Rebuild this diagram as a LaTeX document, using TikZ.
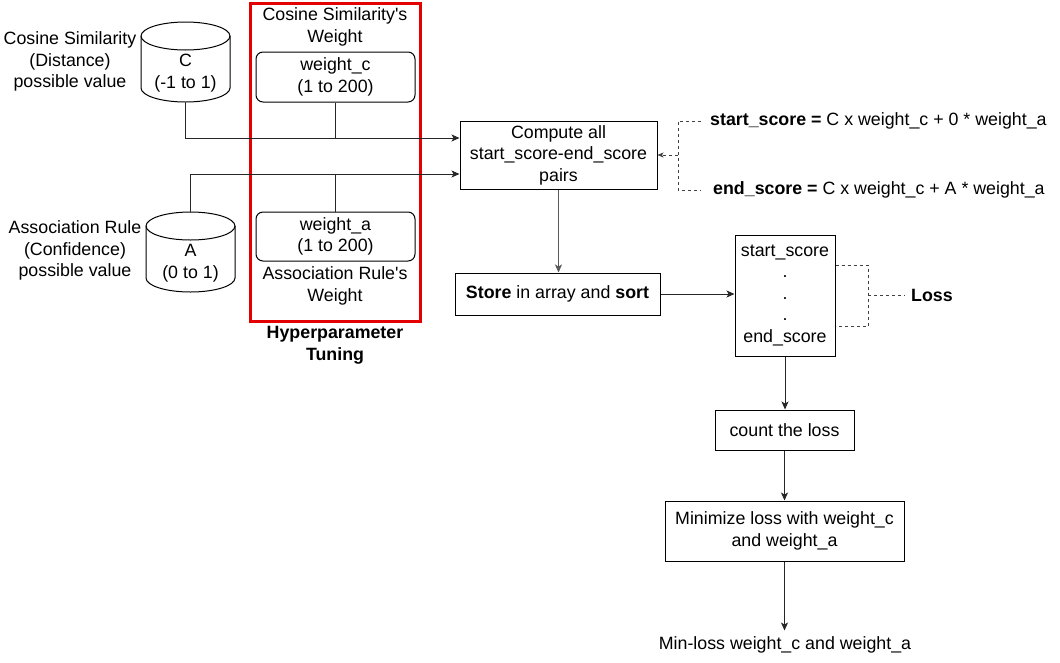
\documentclass[tikz,border=0pt]{standalone}
\usepackage{fontspec}
\newfontfamily\mainf{Liberation Sans}
\usetikzlibrary{arrows.meta,calc}
\begin{document}
\begin{tikzpicture}[x=1pt,y=-1pt,
  every node/.style={font=\mainf\fontsize{17.8}{21.5}\selectfont, align=center},
  txt/.style={inner sep=0pt},
  box/.style={draw=black, line width=1pt, inner sep=0pt},
  rbox/.style={box, rounded corners=7pt},
  ln/.style={line width=1pt, draw=black!85},
  arr/.style={ln, -{Stealth[length=8pt,width=7pt,inset=2pt]}},
  dsh/.style={line width=0.8pt, draw=black!75, dash pattern=on 3pt off 3pt},
  cyl/.style={line width=1pt, draw=black},
  bld/.style={font=\mainf\fontsize{17.8}{21.5}\selectfont\bfseries}
]
\useasboundingbox (0,0) rectangle (1060,662);

% cylinders
\draw[cyl] (141,36) -- (141,88) arc (180:0:44.5 and 14) -- (230,36) arc (0:-180:44.5 and 14) -- cycle;
\draw[cyl] (141,36) arc (180:0:44.5 and 14);
\node[txt, minimum width=89pt, minimum height=80pt] (cylC) at (185.5,62) {};
\node[txt] (cT) at (185.5,73) {C\\(-1 to 1)};

\draw[cyl] (146,226) -- (146,278) arc (180:0:44.5 and 14) -- (235,226) arc (0:-180:44.5 and 14) -- cycle;
\draw[cyl] (146,226) arc (180:0:44.5 and 14);
\node[txt, minimum width=89pt, minimum height=80pt] (cylA) at (190.5,252) {};
\node[txt] (aT) at (190.5,263) {A\\(0 to 1)};

\node[txt] (cLbl) at (70,61.5) {Cosine Similarity\\(Distance)\\possible value};
\node[txt] (aLbl) at (75,250.5) {Association Rule\\(Confidence)\\possible value};

% hyperparameter box
\node[draw=red!90!black, line width=3pt, minimum width=170pt, minimum height=318pt, inner sep=0pt] (hp) at (335,162) {};
\node[txt] (csw) at (335,27) {Cosine Similarity's\\Weight};
\node[rbox, minimum width=159pt, minimum height=50pt] (wc) at (335.5,77) {weight\_c\\(1 to 200)};
\node[rbox, minimum width=159pt, minimum height=49pt] (wa) at (335.5,236.5) {weight\_a\\(1 to 200)};
\node[txt] (arw) at (335,286) {Association Rule's\\Weight};
\node[txt, bld] (hpt) at (335,345.5) {Hyperparameter\\Tuning};

% main boxes
\node[box, minimum width=197pt, minimum height=68pt] (comp) at (558.5,155) {Compute all\\start\_score-end\_score\\pairs};
\node[box, minimum width=205pt, minimum height=42pt] (store) at (557.5,294) {\textbf{Store} in array and \textbf{sort}};
\node[box, minimum width=100pt, minimum height=121pt] (arr) at (785,295.5) {start\_score\\.\\.\\.\\end\_score};
\node[box, minimum width=139pt, minimum height=40pt] (cnt) at (784.5,430) {count the loss};
\node[box, minimum width=239pt, minimum height=60pt] (mini) at (784.5,531) {Minimize loss with weight\_c\\and weight\_a};
\node[txt] (res) at (785,645) {Min-loss weight\_c and weight\_a};

\node[txt, anchor=west] (eqS) at (710,121) {\textbf{start\_score =} C x weight\_c + 0 * weight\_a};
\node[txt, anchor=west] (eqE) at (713,190) {\textbf{end\_score =} C x weight\_c + A * weight\_a};
\node[txt, anchor=west, bld] (loss) at (911,295.5) {Loss};

% connectors into compute
\coordinate (inC) at ($(comp.west)+(0,-17)$);
\coordinate (inA) at ($(comp.west)+(0,19)$);
\draw[arr] (cylC.south) |- (inC);
\draw[ln] (wc.south) -- (wc.south |- inC);
\draw[arr] (cylA.north) |- (inA);
\draw[ln] (wa.north) -- (wa.north |- inA);

% equations bracket
\coordinate (bx) at (678,0);
\draw[dsh] ($(eqS.west)+(-9,0)$) -- (bx |- eqS.west) -- (bx |- eqE.west) -- ($(eqE.west)+(-12,0)$);
\draw[dsh, -{Stealth[length=6pt,width=5pt,inset=1.5pt]}] (bx |- comp.east) -- (comp.east);

% flow
\draw[arr, draw=black!65] (comp.south) -- (comp.south |- store.north);
\draw[arr] (store.east) -- (store.east -| arr.west);
\draw[arr] (arr.south) -- (arr.south |- cnt.north);
\draw[arr] (cnt.south) -- (cnt.south |- mini.north);
\coordinate (resTop) at ($(res.north)+(0,-6)$);
\draw[arr] (mini.south) -- (mini.south |- resTop);

% loss bracket
\coordinate (lx) at (868,0);
\draw[dsh] ($(arr.east)+(0,-30.5)$) -- (lx |- 0,265) -- (lx |- 0,326) -- ($(arr.east)+(0,30.5)$);
\draw[dsh] (lx |- loss.west) -- ($(loss.west)+(-6,0)$);
\end{tikzpicture}
\end{document}
